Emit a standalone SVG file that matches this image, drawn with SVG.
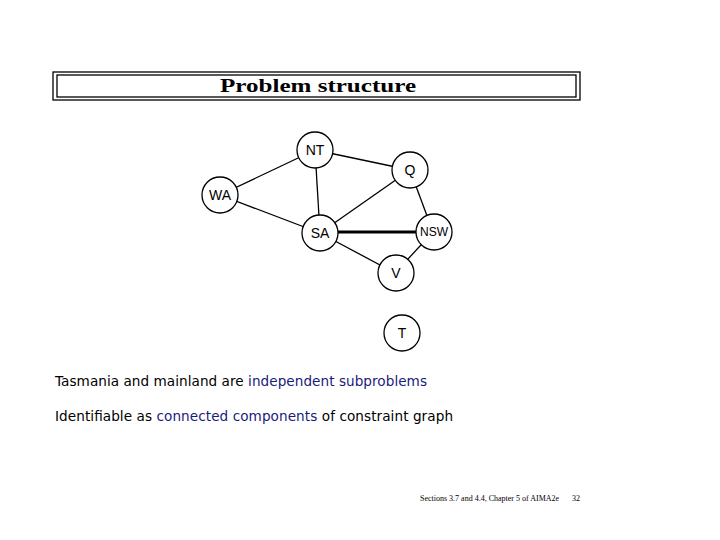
<svg xmlns="http://www.w3.org/2000/svg" width="720" height="540" viewBox="0 0 720 540">
<style>
.n circle{fill:#fff;stroke:#000;stroke-width:1.3}
.n text{font-family:"Liberation Sans",Arial,sans-serif;font-size:14px;text-anchor:middle;dominant-baseline:central}
.e line{stroke:#000;stroke-width:1.3}
.e line.thick{stroke-width:3}
.b{font-family:"DejaVu Sans",sans-serif;font-size:13.6px}
.bl{fill:#1a1a7a}
</style>
<rect width="720" height="540" fill="#fff"/>
<rect x="53" y="72" width="527" height="28" fill="none" stroke="#000" stroke-width="1.3"/>
<rect x="57" y="75" width="519" height="22" fill="none" stroke="#000" stroke-width="1.3"/>
<text x="318" y="92" font-family="Liberation Serif,serif" font-weight="bold" font-size="19" text-anchor="middle" textLength="196" lengthAdjust="spacingAndGlyphs">Problem structure</text>
<g class="e" id="edges">
<line x1="220" y1="195" x2="315" y2="150"/>
<line x1="220" y1="195" x2="320" y2="233"/>
<line x1="315" y1="150" x2="410" y2="170"/>
<line x1="315" y1="150" x2="320" y2="233"/>
<line x1="410" y1="170" x2="320" y2="233"/>
<line x1="410" y1="170" x2="433" y2="232"/>
<line class="thick" x1="320" y1="232" x2="433" y2="232"/>
<line x1="320" y1="233" x2="395" y2="273"/>
<line x1="433" y1="232" x2="395" y2="273"/>
</g>
<g class="n" id="NT"><circle cx="315" cy="150" r="18"/><text x="315" y="150">NT</text></g>
<g class="n" id="Q"><circle cx="410" cy="170" r="18"/><text x="410" y="170">Q</text></g>
<g class="n" id="WA"><circle cx="220" cy="195" r="18"/><text x="220" y="195">WA</text></g>
<g class="n" id="SA"><circle cx="320" cy="233" r="18"/><text x="320" y="233">SA</text></g>
<g class="n" id="NSW"><circle cx="434" cy="232" r="18"/><text x="434" y="232" style="font-size:12px">NSW</text></g>
<g class="n" id="V"><circle cx="396" cy="273" r="18"/><text x="396" y="273">V</text></g>
<g class="n" id="T"><circle cx="402" cy="333" r="18"/><text x="402" y="333">T</text></g>
<text class="b" x="55" y="386" textLength="372">Tasmania and mainland are <tspan class="bl">independent subproblems</tspan></text>
<text class="b" x="55" y="421" textLength="398">Identifiable as <tspan class="bl">connected components</tspan> of constraint graph</text>
<text x="420" y="501" font-family="Liberation Serif,serif" font-size="8">Sections 3.7 and 4.4, Chapter 5 of AIMA2e</text>
<text x="572" y="501" font-family="Liberation Serif,serif" font-size="8">32</text>
</svg>
